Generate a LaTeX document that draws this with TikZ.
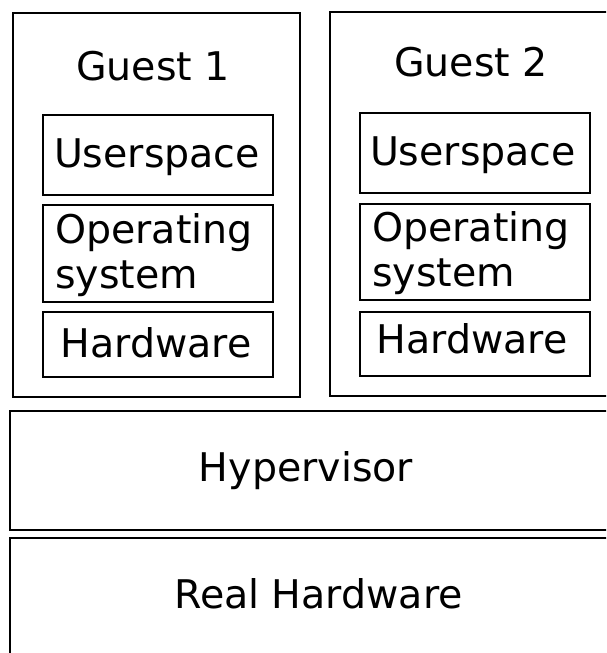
\documentclass[tikz,border=0pt]{standalone}
\usepackage{fontspec}
\setmainfont{DejaVu Sans}
\begin{document}
\begin{tikzpicture}[x=1pt,y=-1pt,
  box/.style={draw=black,line width=1.5pt},
  lbl/.style={inner sep=0pt,font=\fontsize{39.5}{45}\selectfont},
  lblw/.style={lbl,anchor=base west},
  lblc/.style={lbl,anchor=base}]
\useasboundingbox (0,0) rectangle (606,653);
\clip (0,0) rectangle (606,653);
% Guest 1
\draw[box] (13,13) rectangle (300,397);
\node[lblc] (g1) at (153,80) {Guest 1};
\draw[box] (43,115) rectangle (273,195);
\node[lblc] (u1) at (157,167) {Userspace};
\draw[box] (43,205) rectangle (273,302);
\node[lblw] (o1a) at (55,243) {Operating};
\node[lblw] (o1b) at (55,288) {system};
\draw[box] (43,312) rectangle (273,377);
\node[lblc] (h1) at (156,357) {Hardware};
% Guest 2
\draw[box] (330,12) rectangle (612,396);
\node[lblc] (g2) at (471,76) {Guest 2};
\draw[box] (360,113) rectangle (590,193);
\node[lblc] (u2) at (473,165) {Userspace};
\draw[box] (360,204) rectangle (590,300);
\node[lblw] (o2a) at (372,241) {Operating};
\node[lblw] (o2b) at (372,286) {system};
\draw[box] (360,312) rectangle (590,376);
\node[lblc] (h2) at (472,353) {Hardware};
% Hypervisor
\draw[box] (10,411) rectangle (612,530);
\node[lblc] (hv) at (306,481) {Hypervisor};
% Real hardware
\draw[box] (10,538) rectangle (612,660);
\node[lblc] (rh) at (318.5,608) {Real Hardware};
\end{tikzpicture}
\end{document}
